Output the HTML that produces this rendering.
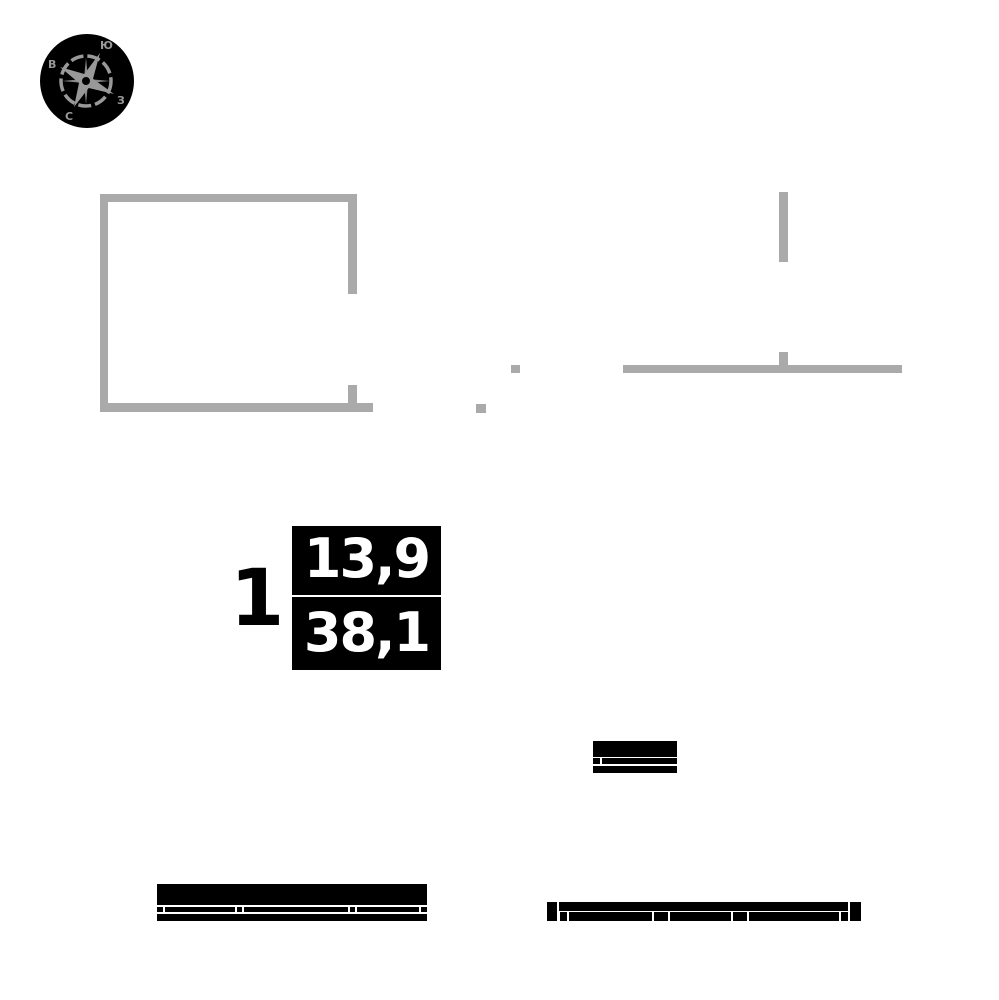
<!DOCTYPE html>
<html><head><meta charset="utf-8"><style>
body{margin:0;width:999px;height:1000px;background:#fff;position:relative;overflow:hidden;font-family:"DejaVu Sans","Liberation Sans",sans-serif}
.g{position:absolute;background:#aaa}
.b{position:absolute;background:#000}
</style></head><body>
<svg style="position:absolute;left:40px;top:34px" width="94" height="94" viewBox="0 0 94 94">
<circle cx="47" cy="47" r="47" fill="#000"/>
<circle cx="46" cy="47" r="25" fill="none" stroke="#999" stroke-width="3.5" stroke-dasharray="13 4"/>
<polygon points="46,24 44,44 48,44" fill="#888"/>
<polygon points="70,47 48,45 48,49" fill="#888"/>
<polygon points="46,70 44,50 48,50" fill="#888"/>
<polygon points="22,47 44,45 44,49" fill="#888"/>
<polygon points="60,19 53,44.7 74,60 48.7,54 34,73 39,49 20,33 44.3,40" fill="#999"/>
<circle cx="46" cy="47" r="5" fill="#000" stroke="#999" stroke-width="2"/>
<text x="8" y="34" fill="#999" font-size="11" font-weight="bold" font-family="DejaVu Sans, sans-serif">В</text>
<text x="60" y="15" fill="#999" font-size="11" font-weight="bold" font-family="DejaVu Sans, sans-serif">Ю</text>
<text x="77" y="70" fill="#999" font-size="11" font-weight="bold" font-family="DejaVu Sans, sans-serif">З</text>
<text x="25" y="86" fill="#999" font-size="11" font-weight="bold" font-family="DejaVu Sans, sans-serif">С</text>
</svg>

<div class="g" style="left:100px;top:194px;width:257px;height:8px"></div>
<div class="g" style="left:100px;top:194px;width:8px;height:218px"></div>
<div class="g" style="left:348px;top:194px;width:9px;height:100px"></div>
<div class="g" style="left:348px;top:385px;width:9px;height:26px"></div>
<div class="g" style="left:100px;top:403px;width:273px;height:9px"></div>
<div class="g" style="left:779px;top:192px;width:9px;height:70px"></div>
<div class="g" style="left:779px;top:352px;width:9px;height:20px"></div>
<div class="g" style="left:623px;top:365px;width:279px;height:8px"></div>
<div class="g" style="left:511px;top:365px;width:9px;height:8px"></div>
<div class="g" style="left:476px;top:404px;width:10px;height:9px"></div>

<div style="position:absolute;left:230px;top:549px;font-size:78px;font-weight:bold;line-height:100px">1</div>
<div class="b" style="left:292px;top:526px;width:149px;height:69px;color:#fff;font-size:54px;font-weight:bold;text-align:center;line-height:66px;letter-spacing:-2px">13,9</div>
<div class="b" style="left:292px;top:597px;width:149px;height:73px;color:#fff;font-size:54px;font-weight:bold;text-align:center;line-height:72px;letter-spacing:-2px">38,1</div>

<div class="b" style="left:593px;top:741px;width:84px;height:16px"></div>
<div class="b" style="left:593px;top:758px;width:7px;height:6px"></div>
<div class="b" style="left:602px;top:758px;width:75px;height:6px"></div>
<div class="b" style="left:593px;top:766px;width:84px;height:7px"></div>

<div class="b" style="left:157px;top:884px;width:270px;height:21px"></div>
<div class="b" style="left:157px;top:907px;width:6px;height:5px"></div>
<div class="b" style="left:165px;top:907px;width:70px;height:5px"></div>
<div class="b" style="left:237px;top:907px;width:5px;height:5px"></div>
<div class="b" style="left:244px;top:907px;width:104px;height:5px"></div>
<div class="b" style="left:350px;top:907px;width:5px;height:5px"></div>
<div class="b" style="left:357px;top:907px;width:62px;height:5px"></div>
<div class="b" style="left:421px;top:907px;width:6px;height:5px"></div>
<div class="b" style="left:157px;top:914px;width:270px;height:7px"></div>

<div class="b" style="left:547px;top:902px;width:10px;height:19px"></div>
<div class="b" style="left:559px;top:902px;width:289px;height:9px"></div>
<div class="b" style="left:560px;top:912px;width:7px;height:9px"></div>
<div class="b" style="left:569px;top:912px;width:83px;height:9px"></div>
<div class="b" style="left:654px;top:912px;width:14px;height:9px"></div>
<div class="b" style="left:670px;top:912px;width:61px;height:9px"></div>
<div class="b" style="left:733px;top:912px;width:14px;height:9px"></div>
<div class="b" style="left:749px;top:912px;width:90px;height:9px"></div>
<div class="b" style="left:841px;top:912px;width:7px;height:9px"></div>
<div class="b" style="left:850px;top:902px;width:11px;height:19px"></div>
</body></html>
